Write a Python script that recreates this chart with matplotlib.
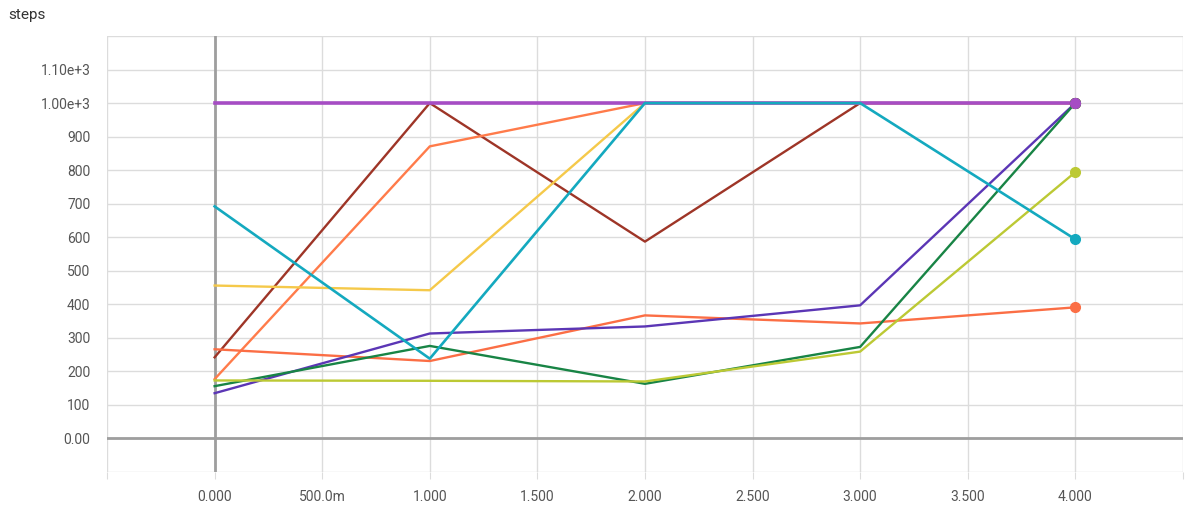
import numpy as np
import matplotlib.pyplot as plt

plt.rcParams['font.family'] = ['Roboto', 'DejaVu Sans']

steps_x = [0, 1, 2, 3, 4]

# series values
dark_red = [242, 1000, 587, 1000, 1000]
orange = [177, 871, 1000, 1000, 1000]
yellow = [456, 442, 1000, 1000, 1000]
coral = [266, 231, 367, 343, 391]
indigo = [135, 313, 334, 397, 1000]
green = [156, 276, 163, 273, 1000]
lime = [173, 172, 170, 259, 794]
violet = [1000, 1000, 1000, 1000, 1000]
cyan = [692, 238, 1000, 1000, 594]

x_ticks = [-0.5, 0, 0.5, 1, 1.5, 2, 2.5, 3, 3.5, 4, 4.5]
x_labels = ['', '0.000', '500.0m', '1.000', '1.500', '2.000', '2.500',
            '3.000', '3.500', '4.000', '']
y_ticks = [-100, 0, 100, 200, 300, 400, 500, 600, 700, 800, 900, 1000, 1100, 1200]
y_labels = ['', '0.00', '100', '200', '300', '400', '500', '600', '700',
            '800', '900', '1.00e+3', '1.10e+3', '']

series = [
    (dark_red, '#9e3527', 1.7),
    (orange, '#ff7b4a', 1.7),
    (yellow, '#f5c94a', 1.7),
    (coral, '#fb6e45', 1.7),
    (indigo, '#5b36b5', 1.7),
    (green, '#188445', 1.7),
    (lime, '#bcc934', 1.7),
    (violet, '#a64dc4', 2.6),
    (cyan, '#14a9bf', 1.9),
]

fig = plt.figure(figsize=(11.96, 5.05), dpi=100)
ax = fig.add_axes([0.0895, 0.0653, 0.8995, 0.8634])

for vals, col, w in series:
    ax.plot(steps_x, vals, color=col, lw=w, zorder=3)
    ax.plot(steps_x[-1], vals[-1], 'o', color=col, ms=7, zorder=4)

ax.axhline(0, color='#9e9e9e', lw=2, zorder=2)
ax.axvline(0, color='#9e9e9e', lw=2, zorder=2)

ax.set_xlim(-0.5, 4.5)
ax.set_ylim(-100, 1200)
ax.set_xticks(x_ticks)
ax.set_xticklabels(x_labels)
ax.set_yticks(y_ticks)
ax.set_yticklabels(y_labels)
ax.grid(True, color='#dcdcdc', lw=1, zorder=1)
for s in ax.spines.values():
    s.set_visible(False)
ax.tick_params(axis='x', length=5, color='#dcdcdc', labelcolor='#555555',
               labelsize=10, pad=8)
ax.tick_params(axis='y', length=0, labelcolor='#555555', labelsize=10, pad=12)

fig.text(0.007, 0.97, 'steps', fontsize=11, color='#333333', va='center')

fig.savefig('out.png', dpi=100)
